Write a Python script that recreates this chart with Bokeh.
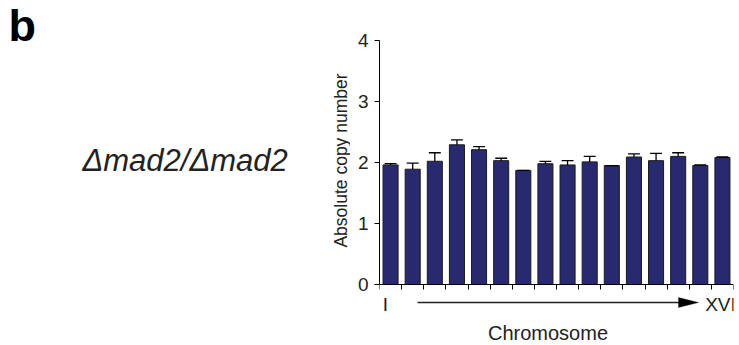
import math
from bokeh.plotting import figure
from bokeh.layouts import row
from bokeh.models import ColumnDataSource, Range1d, FixedTicker, Label, Arrow, PolyAnnotation
from bokeh.core.properties import value
from bokeh.embed import file_html
from bokeh.resources import INLINE

# ---- data ----
chromosomes = ["I", "II", "III", "IV", "V", "VI", "VII", "VIII", "IX", "X",
               "XI", "XII", "XIII", "XIV", "XV", "XVI"]
copy_number = [1.96, 1.89, 2.02, 2.29, 2.21, 2.03, 1.87, 1.98, 1.96, 2.01,
               1.95, 2.09, 2.03, 2.10, 1.95, 2.08]
error_upper = [0.02, 0.10, 0.14, 0.08, 0.05, 0.04, 0.00, 0.04, 0.07, 0.09,
               0.00, 0.05, 0.12, 0.06, 0.01, 0.01]
y_ticks = [0, 1, 2, 3, 4]
panel_letter = "b"
genotype = "\u0394mad2/\u0394mad2"
y_title = "Absolute copy number"
x_title = "Chromosome"
first_label = chromosomes[0]
last_label = chromosomes[-1]

FONT = "Liberation Sans"
BAR_COLOR = "#29296f"
TXT = "#222222"

W, H = 739, 345
LEFT_W = 350          # width of the left (annotation) panel
FRAME_L, FRAME_R = 379, 733
TOP_PX = 0            # top edge of plotting frames
Y0_PX, Y4_PX = 284, 40
PXU = (Y0_PX - Y4_PX) / 4.0

# ---------- left panel: panel letter, genotype, y title ----------
pa = figure(width=LEFT_W, height=H, output_backend="svg", toolbar_location=None,
            x_range=Range1d(0, LEFT_W), y_range=Range1d(H, TOP_PX),
            x_axis_type=None, y_axis_type=None, title=None,
            min_border_left=0, min_border_right=0, min_border_top=TOP_PX,
            min_border_bottom=0)
pa.outline_line_color = None
pa.grid.visible = False
pa.text(x=[8], y=[24.8], text=[panel_letter], text_font=value(FONT),
        text_font_style="bold", text_font_size="45px", text_color="black",
        text_baseline="middle")
pa.text(x=[82], y=[159.5], text=[genotype], text_font=value(FONT),
        text_font_style="italic", text_font_size="31px", text_color=TXT,
        text_baseline="middle")
pa.text(x=[340], y=[(Y0_PX + Y4_PX) / 2 - 2], text=[y_title], text_font=value(FONT),
        text_font_size="17.5px", text_color=TXT, angle=math.pi / 2,
        text_align="center", text_baseline="middle")

# ---------- main chart ----------
n = len(chromosomes)
xs = list(range(n))
tops = [v + e for v, e in zip(copy_number, error_upper)]
cap_half = 0.27
src = ColumnDataSource(dict(
    x=xs, top=copy_number, etop=tops,
    cx0=[x - cap_half for x in xs], cx1=[x + cap_half for x in xs],
))

y_end = 4 + (Y4_PX - TOP_PX) / PXU
y_start = y_end - (H - TOP_PX) / PXU

p = figure(width=W - LEFT_W, height=H, output_backend="svg", toolbar_location=None,
           x_range=Range1d(-0.5, n - 0.5), y_range=Range1d(y_start, y_end),
           x_axis_location="above", title=None,
           min_border_left=FRAME_L - LEFT_W, min_border_right=W - FRAME_R,
           min_border_top=TOP_PX, min_border_bottom=0)
p.outline_line_color = None
p.grid.visible = False

p.vbar(x="x", top="top", bottom=0, width=0.68, source=src,
       fill_color=BAR_COLOR, line_color="#1a1a1a", line_width=1)
p.segment(x0="x", y0="top", x1="x", y1="etop", source=src,
          line_color="black", line_width=1.3)
p.segment(x0="cx0", y0="etop", x1="cx1", y1="etop", source=src,
          line_color="black", line_width=1.3)

# y axis (0..4 only)
ya = p.yaxis[0]
ya.bounds = (0, 4)
ya.ticker = FixedTicker(ticks=y_ticks)
ya.minor_tick_line_color = None
ya.major_tick_in = 0
ya.major_tick_out = 5
ya.major_label_standoff = 6
ya.major_label_text_font = FONT
ya.major_label_text_font_size = "19px"
ya.major_label_text_color = TXT
ya.axis_line_color = "black"
ya.major_tick_line_color = "black"

# x axis: drawn at y = 0, ticks at category boundaries pointing down, no labels
bounds_ticks = [i - 0.5 for i in range(n + 1)]
xa = p.xaxis[0]
xa.fixed_location = 0
xa.ticker = FixedTicker(ticks=bounds_ticks)
xa.major_label_overrides = {t: "" for t in bounds_ticks}
xa.minor_tick_line_color = None
xa.major_tick_in = 5
xa.major_tick_out = 0
xa.major_label_standoff = 0
xa.major_label_text_color = None
xa.major_label_text_font_size = "0px"
xa.axis_line_color = "black"
xa.major_tick_line_color = "black"


def dx(px):
    return (px - FRAME_L) / ((FRAME_R - FRAME_L) / n) - 0.5


def dy(py):
    return (Y0_PX - py) / PXU


p.add_layout(Label(x=dx(385), y=dy(304), text=first_label, text_font=FONT,
                   text_font_size="19px", text_color=TXT,
                   text_align="center", text_baseline="middle"))
p.add_layout(Label(x=dx(720), y=dy(303.5), text=last_label, text_font=FONT,
                   text_font_size="19px", text_color=TXT,
                   text_align="center", text_baseline="middle"))
p.add_layout(Label(x=dx(547.5), y=dy(332), text=x_title, text_font=FONT,
                   text_font_size="20px", text_color=TXT,
                   text_align="center", text_baseline="middle"))

# arrow from first to last chromosome
ay = dy(302)
ax0, ax1 = dx(417), dx(698)
head_len = 20 / ((FRAME_R - FRAME_L) / n)
head_half = 5 / PXU
p.add_layout(Arrow(end=None, x_start=ax0, y_start=ay, x_end=ax1 - head_len * 0.5,
                   y_end=ay, line_color=TXT, line_width=1.6))
p.add_layout(PolyAnnotation(xs=[ax1 - head_len, ax1, ax1 - head_len],
                            ys=[ay + head_half, ay, ay - head_half],
                            fill_color="black", fill_alpha=1.0,
                            line_color="black", line_width=1))

layout = row(pa, p)
open("out.html", "w").write(file_html(layout, INLINE))
